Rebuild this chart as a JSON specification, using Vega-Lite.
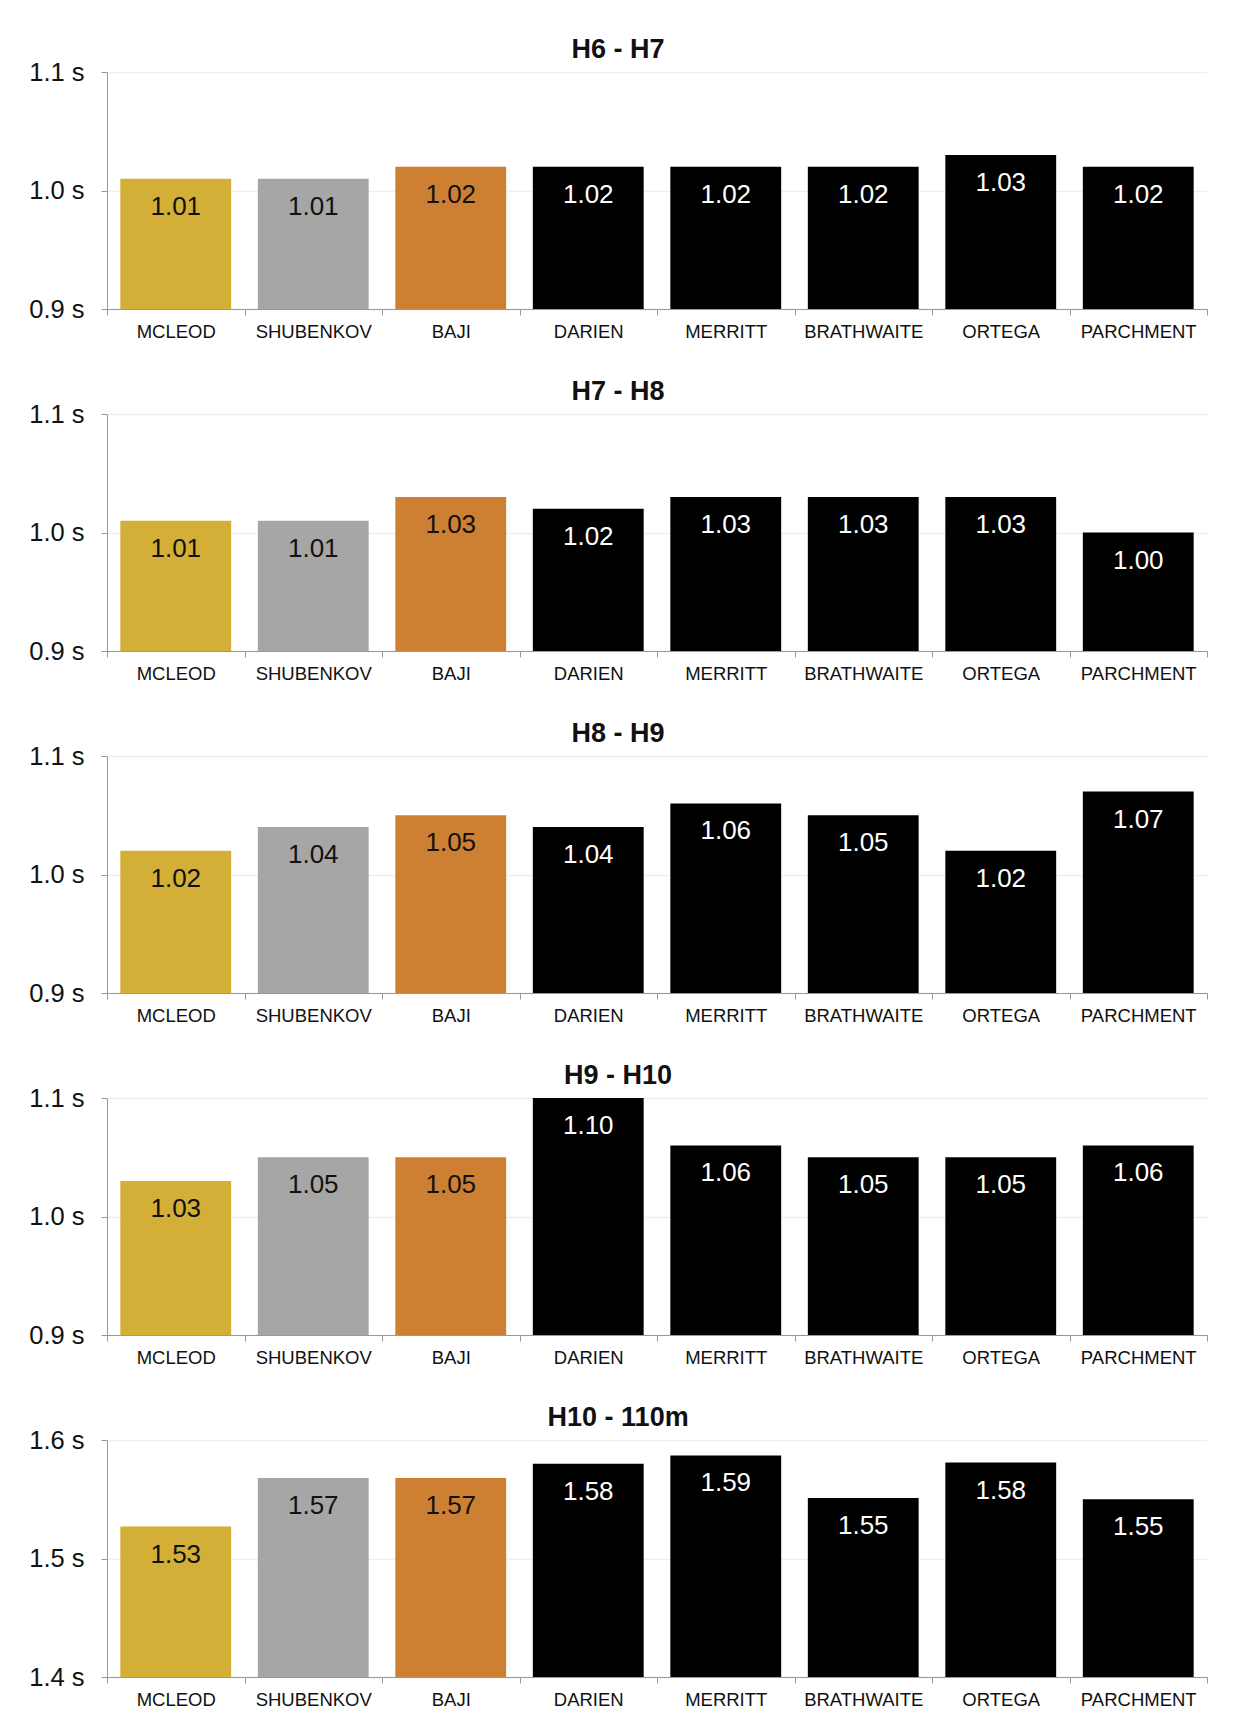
{
  "$schema": "https://vega.github.io/schema/vega-lite/v6.json",
  "padding": {"left": 28, "top": 36, "right": 40, "bottom": 10},
  "background": "white",
  "spacing": 37,
  "config": {
    "font": "Liberation Sans",
    "view": {"stroke": null},
    "axisX": {"title": null, "labelAngle": 0, "labelFontSize": 18.5, "labelColor": "#111111", "labelPadding": 7, "tickSize": 6, "tickBand": "extent", "tickColor": "#999999", "domainColor": "#999999", "grid": false},
    "axisY": {"title": null, "labelFontSize": 25.5, "labelColor": "#111111", "labelPadding": 17, "tickSize": 6, "tickColor": "#999999", "domainColor": "#999999", "grid": true, "gridColor": "#EFEFEF", "gridWidth": 1.5},
    "title": {"fontSize": 27, "fontWeight": "bold", "color": "#111111", "anchor": "middle", "frame": "bounds", "offset": -4}
  },
  "data": {"values": [
    {"split": "H6 - H7", "athlete": "MCLEOD", "time": 1.01},
    {"split": "H6 - H7", "athlete": "SHUBENKOV", "time": 1.01},
    {"split": "H6 - H7", "athlete": "BAJI", "time": 1.02},
    {"split": "H6 - H7", "athlete": "DARIEN", "time": 1.02},
    {"split": "H6 - H7", "athlete": "MERRITT", "time": 1.02},
    {"split": "H6 - H7", "athlete": "BRATHWAITE", "time": 1.02},
    {"split": "H6 - H7", "athlete": "ORTEGA", "time": 1.03},
    {"split": "H6 - H7", "athlete": "PARCHMENT", "time": 1.02},
    {"split": "H7 - H8", "athlete": "MCLEOD", "time": 1.01},
    {"split": "H7 - H8", "athlete": "SHUBENKOV", "time": 1.01},
    {"split": "H7 - H8", "athlete": "BAJI", "time": 1.03},
    {"split": "H7 - H8", "athlete": "DARIEN", "time": 1.02},
    {"split": "H7 - H8", "athlete": "MERRITT", "time": 1.03},
    {"split": "H7 - H8", "athlete": "BRATHWAITE", "time": 1.03},
    {"split": "H7 - H8", "athlete": "ORTEGA", "time": 1.03},
    {"split": "H7 - H8", "athlete": "PARCHMENT", "time": 1.00},
    {"split": "H8 - H9", "athlete": "MCLEOD", "time": 1.02},
    {"split": "H8 - H9", "athlete": "SHUBENKOV", "time": 1.04},
    {"split": "H8 - H9", "athlete": "BAJI", "time": 1.05},
    {"split": "H8 - H9", "athlete": "DARIEN", "time": 1.04},
    {"split": "H8 - H9", "athlete": "MERRITT", "time": 1.06},
    {"split": "H8 - H9", "athlete": "BRATHWAITE", "time": 1.05},
    {"split": "H8 - H9", "athlete": "ORTEGA", "time": 1.02},
    {"split": "H8 - H9", "athlete": "PARCHMENT", "time": 1.07},
    {"split": "H9 - H10", "athlete": "MCLEOD", "time": 1.03},
    {"split": "H9 - H10", "athlete": "SHUBENKOV", "time": 1.05},
    {"split": "H9 - H10", "athlete": "BAJI", "time": 1.05},
    {"split": "H9 - H10", "athlete": "DARIEN", "time": 1.10},
    {"split": "H9 - H10", "athlete": "MERRITT", "time": 1.06},
    {"split": "H9 - H10", "athlete": "BRATHWAITE", "time": 1.05},
    {"split": "H9 - H10", "athlete": "ORTEGA", "time": 1.05},
    {"split": "H9 - H10", "athlete": "PARCHMENT", "time": 1.06},
    {"split": "H10 - 110m", "athlete": "MCLEOD", "time": 1.527},
    {"split": "H10 - 110m", "athlete": "SHUBENKOV", "time": 1.568},
    {"split": "H10 - 110m", "athlete": "BAJI", "time": 1.568},
    {"split": "H10 - 110m", "athlete": "DARIEN", "time": 1.580},
    {"split": "H10 - 110m", "athlete": "MERRITT", "time": 1.587},
    {"split": "H10 - 110m", "athlete": "BRATHWAITE", "time": 1.551},
    {"split": "H10 - 110m", "athlete": "ORTEGA", "time": 1.581},
    {"split": "H10 - 110m", "athlete": "PARCHMENT", "time": 1.550}
  ]},
  "vconcat": [
    {
      "title": {"text": "H6 - H7"},
      "width": 1100, "height": 237,
      "transform": [{"filter": "datum.split === 'H6 - H7'"}],
      "encoding": {
        "x": {"field": "athlete", "type": "nominal", "sort": null, "scale": {"paddingInner": 0, "paddingOuter": 0}},
        "y": {"field": "time", "type": "quantitative", "scale": {"domain": [0.9, 1.1], "nice": false, "zero": false}, "axis": {"values": [0.9, 1.0, 1.1], "labelExpr": "format(datum.value, '.1f') + ' s'"}}
      },
      "layer": [
        {"mark": {"type": "bar", "width": {"band": 0.806}, "clip": true},
         "encoding": {"color": {"field": "athlete", "type": "nominal", "legend": null, "scale": {"domain": ["MCLEOD", "SHUBENKOV", "BAJI", "DARIEN", "MERRITT", "BRATHWAITE", "ORTEGA", "PARCHMENT"], "range": ["#D4AF37", "#A6A6A6", "#CD7F32", "#000000", "#000000", "#000000", "#000000", "#000000"]}}}},
        {"mark": {"type": "text", "baseline": "middle", "dy": 28, "fontSize": 26},
         "encoding": {"text": {"field": "time", "type": "quantitative", "format": ".2f"},
           "color": {"condition": {"test": "indexof(['MCLEOD','SHUBENKOV','BAJI'], datum.athlete) >= 0", "value": "#111111"}, "value": "#FFFFFF"}}}
      ]
    },
    {
      "title": {"text": "H7 - H8"},
      "width": 1100, "height": 237,
      "transform": [{"filter": "datum.split === 'H7 - H8'"}],
      "encoding": {
        "x": {"field": "athlete", "type": "nominal", "sort": null, "scale": {"paddingInner": 0, "paddingOuter": 0}},
        "y": {"field": "time", "type": "quantitative", "scale": {"domain": [0.9, 1.1], "nice": false, "zero": false}, "axis": {"values": [0.9, 1.0, 1.1], "labelExpr": "format(datum.value, '.1f') + ' s'"}}
      },
      "layer": [
        {"mark": {"type": "bar", "width": {"band": 0.806}, "clip": true},
         "encoding": {"color": {"field": "athlete", "type": "nominal", "legend": null, "scale": {"domain": ["MCLEOD", "SHUBENKOV", "BAJI", "DARIEN", "MERRITT", "BRATHWAITE", "ORTEGA", "PARCHMENT"], "range": ["#D4AF37", "#A6A6A6", "#CD7F32", "#000000", "#000000", "#000000", "#000000", "#000000"]}}}},
        {"mark": {"type": "text", "baseline": "middle", "dy": 28, "fontSize": 26},
         "encoding": {"text": {"field": "time", "type": "quantitative", "format": ".2f"},
           "color": {"condition": {"test": "indexof(['MCLEOD','SHUBENKOV','BAJI'], datum.athlete) >= 0", "value": "#111111"}, "value": "#FFFFFF"}}}
      ]
    },
    {
      "title": {"text": "H8 - H9"},
      "width": 1100, "height": 237,
      "transform": [{"filter": "datum.split === 'H8 - H9'"}],
      "encoding": {
        "x": {"field": "athlete", "type": "nominal", "sort": null, "scale": {"paddingInner": 0, "paddingOuter": 0}},
        "y": {"field": "time", "type": "quantitative", "scale": {"domain": [0.9, 1.1], "nice": false, "zero": false}, "axis": {"values": [0.9, 1.0, 1.1], "labelExpr": "format(datum.value, '.1f') + ' s'"}}
      },
      "layer": [
        {"mark": {"type": "bar", "width": {"band": 0.806}, "clip": true},
         "encoding": {"color": {"field": "athlete", "type": "nominal", "legend": null, "scale": {"domain": ["MCLEOD", "SHUBENKOV", "BAJI", "DARIEN", "MERRITT", "BRATHWAITE", "ORTEGA", "PARCHMENT"], "range": ["#D4AF37", "#A6A6A6", "#CD7F32", "#000000", "#000000", "#000000", "#000000", "#000000"]}}}},
        {"mark": {"type": "text", "baseline": "middle", "dy": 28, "fontSize": 26},
         "encoding": {"text": {"field": "time", "type": "quantitative", "format": ".2f"},
           "color": {"condition": {"test": "indexof(['MCLEOD','SHUBENKOV','BAJI'], datum.athlete) >= 0", "value": "#111111"}, "value": "#FFFFFF"}}}
      ]
    },
    {
      "title": {"text": "H9 - H10"},
      "width": 1100, "height": 237,
      "transform": [{"filter": "datum.split === 'H9 - H10'"}],
      "encoding": {
        "x": {"field": "athlete", "type": "nominal", "sort": null, "scale": {"paddingInner": 0, "paddingOuter": 0}},
        "y": {"field": "time", "type": "quantitative", "scale": {"domain": [0.9, 1.1], "nice": false, "zero": false}, "axis": {"values": [0.9, 1.0, 1.1], "labelExpr": "format(datum.value, '.1f') + ' s'"}}
      },
      "layer": [
        {"mark": {"type": "bar", "width": {"band": 0.806}, "clip": true},
         "encoding": {"color": {"field": "athlete", "type": "nominal", "legend": null, "scale": {"domain": ["MCLEOD", "SHUBENKOV", "BAJI", "DARIEN", "MERRITT", "BRATHWAITE", "ORTEGA", "PARCHMENT"], "range": ["#D4AF37", "#A6A6A6", "#CD7F32", "#000000", "#000000", "#000000", "#000000", "#000000"]}}}},
        {"mark": {"type": "text", "baseline": "middle", "dy": 28, "fontSize": 26},
         "encoding": {"text": {"field": "time", "type": "quantitative", "format": ".2f"},
           "color": {"condition": {"test": "indexof(['MCLEOD','SHUBENKOV','BAJI'], datum.athlete) >= 0", "value": "#111111"}, "value": "#FFFFFF"}}}
      ]
    },
    {
      "title": {"text": "H10 - 110m"},
      "width": 1100, "height": 237,
      "transform": [{"filter": "datum.split === 'H10 - 110m'"}],
      "encoding": {
        "x": {"field": "athlete", "type": "nominal", "sort": null, "scale": {"paddingInner": 0, "paddingOuter": 0}},
        "y": {"field": "time", "type": "quantitative", "scale": {"domain": [1.4, 1.6], "nice": false, "zero": false}, "axis": {"values": [1.4, 1.5, 1.6], "labelExpr": "format(datum.value, '.1f') + ' s'"}}
      },
      "layer": [
        {"mark": {"type": "bar", "width": {"band": 0.806}, "clip": true},
         "encoding": {"color": {"field": "athlete", "type": "nominal", "legend": null, "scale": {"domain": ["MCLEOD", "SHUBENKOV", "BAJI", "DARIEN", "MERRITT", "BRATHWAITE", "ORTEGA", "PARCHMENT"], "range": ["#D4AF37", "#A6A6A6", "#CD7F32", "#000000", "#000000", "#000000", "#000000", "#000000"]}}}},
        {"mark": {"type": "text", "baseline": "middle", "dy": 28, "fontSize": 26},
         "encoding": {"text": {"field": "time", "type": "quantitative", "format": ".2f"},
           "color": {"condition": {"test": "indexof(['MCLEOD','SHUBENKOV','BAJI'], datum.athlete) >= 0", "value": "#111111"}, "value": "#FFFFFF"}}}
      ]
    }
  ]
}
